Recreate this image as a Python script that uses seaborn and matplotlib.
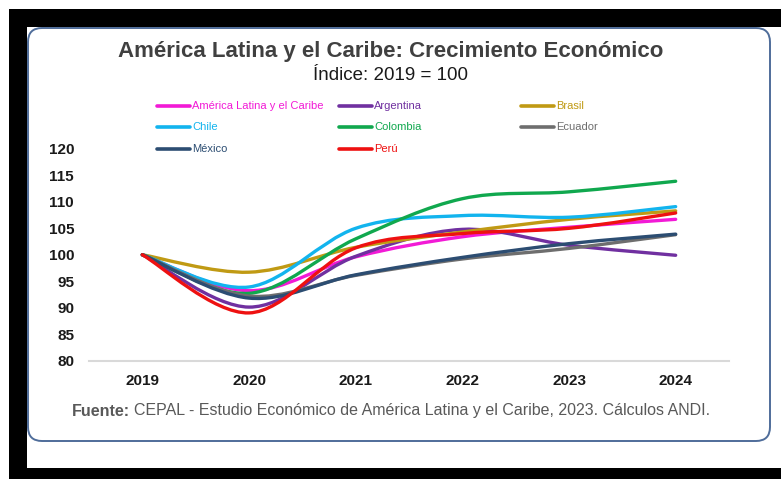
import numpy as np
import pandas as pd
import matplotlib
matplotlib.use("Agg")
import matplotlib.pyplot as plt
import seaborn as sns
from matplotlib.path import Path
from matplotlib.patches import PathPatch, Rectangle, FancyBboxPatch
from matplotlib.lines import Line2D
from matplotlib.transforms import IdentityTransform

# Datos (Índice 2019 = 100)
years = [2019, 2020, 2021, 2022, 2023, 2024]
alc = [100, 93.2, 99.6, 103.4, 105.2, 106.7]
argentina = [100, 90.1, 99.7, 104.8, 101.8, 99.9]
brasil = [100, 96.7, 101.4, 104.3, 106.7, 108.3]
chile = [100, 93.9, 105.0, 107.4, 107.1, 109.1]
colombia = [100, 92.7, 103.0, 110.6, 111.9, 113.9]
ecuador = [100, 92.2, 96.1, 99.2, 101.2, 103.8]
mexico = [100, 91.8, 96.2, 99.5, 102.1, 103.9]
peru = [100, 89.0, 101.3, 104.0, 105.0, 107.9]

names = ["América Latina y el Caribe", "Argentina", "Brasil", "Chile",
         "Colombia", "Ecuador", "México", "Perú"]
series = [alc, argentina, brasil, chile, colombia, ecuador, mexico, peru]
colors = ["#f21ad6", "#7030a0", "#c09a14", "#12b4ee", "#10a84e",
          "#6e6e6e", "#2c4d72", "#ee1111"]

rows = []
for name, vals in zip(names, series):
    for y, v in zip(years, vals):
        rows.append({"Año": y, "Índice": v, "Serie": name})
df = pd.DataFrame(rows)

sns.set_style("white")
plt.rcParams["font.family"] = ["Liberation Sans", "DejaVu Sans"]

W, H = 781, 479
fig = plt.figure(figsize=(W / 100, H / 100), dpi=100)
fig.patch.set_facecolor("white")

# marco negro y caja redondeada
fig.patches.append(Rectangle((9, 0), W - 9, H - 9, transform=IdentityTransform(),
                             fc="black", ec="none", zorder=-3))
fig.patches.append(Rectangle((27, H - 468), W - 27, 468 - 27, transform=IdentityTransform(),
                             fc="white", ec="none", zorder=-2))
fig.patches.append(FancyBboxPatch((28, H - 441), 742, 413, boxstyle="round,pad=0,rounding_size=14",
                                  transform=IdentityTransform(), fc="white", ec="#4f6d9a",
                                  lw=1.4, zorder=-1))

ax = fig.add_axes([89 / W, 1 - 360.5 / H, (729 - 89) / W, (360.5 - 149) / H])
ax.patch.set_alpha(0)

sns.lineplot(data=df, x="Año", y="Índice", hue="Serie", hue_order=names,
             palette=colors, legend=False, ax=ax, lw=2.4)


def smooth(xy):
    # curva suavizada tipo Excel (Bezier)
    n = len(xy)
    verts = [xy[0]]
    codes = [Path.MOVETO]
    for i in range(n - 1):
        p0 = xy[max(i - 1, 0)]
        p1 = xy[i]
        p2 = xy[i + 1]
        p3 = xy[min(i + 2, n - 1)]
        verts += [p1 + (p2 - p0) / 6, p2 - (p3 - p1) / 6, p2]
        codes += [Path.CURVE4] * 3
    return Path(verts, codes)


for line in list(ax.get_lines()):
    xy = line.get_xydata()
    ax.add_patch(PathPatch(smooth(xy), fill=False, ec=line.get_color(),
                           lw=line.get_linewidth(), capstyle="round", joinstyle="round"))
    line.set_visible(False)

ax.set_xlim(2018.5, 2024.5)
ax.set_ylim(80, 120)
ax.set_xticks(years)
ax.set_xticklabels([str(y) for y in years])
ax.set_yticks(range(80, 121, 5))
ax.tick_params(axis="both", length=0, colors="#1a1a1a")
ax.tick_params(axis="y", pad=10.8, labelsize=11)
ax.tick_params(axis="x", pad=10, labelsize=11)
for lab in ax.get_xticklabels() + ax.get_yticklabels():
    lab.set_fontweight("bold")
for s in ["top", "left", "right"]:
    ax.spines[s].set_visible(False)
ax.spines["bottom"].set_color("#d9d9d9")
ax.spines["bottom"].set_linewidth(1.5)
ax.set_xlabel("")
ax.set_ylabel("")

# leyenda manual en 3 columnas
col_x = [157, 339, 521]
row_y = [106, 127, 149]
for i, (name, c) in enumerate(zip(names, colors)):
    x0 = col_x[i % 3]
    y0 = row_y[i // 3]
    fig.add_artist(Line2D([x0 / W, (x0 + 33) / W], [1 - y0 / H, 1 - y0 / H],
                          color=c, lw=2.6, solid_capstyle="round"))
    fig.text((x0 + 35) / W, 1 - y0 / H, name, color=c, fontsize=8,
             ha="left", va="center")

fig.text(391 / W, 1 - 52 / H, "América Latina y el Caribe: Crecimiento Económico",
         ha="center", va="center", fontsize=16, fontweight="bold", color="#404040")
fig.text(391 / W, 1 - 75 / H, "Índice: 2019 = 100", ha="center", va="center",
         fontsize=13.5, color="#1a1a1a")

# fuente
fig.canvas.draw()
r = fig.canvas.get_renderer()
t1 = fig.text(0, 1 - 411 / H, "Fuente:", fontweight="bold", fontsize=11.5,
              color="#595959", va="center")
t2 = fig.text(0, 1 - 411 / H, "CEPAL - Estudio Económico de América Latina y el Caribe, 2023. Cálculos ANDI.",
              fontsize=11.5, color="#595959", va="center")
gap = 4
w1 = t1.get_window_extent(r).width
w2 = t2.get_window_extent(r).width
start = 391 - (w1 + gap + w2) / 2
t1.set_x(start / W)
t2.set_x((start + w1 + gap) / W)

fig.savefig("out.png", dpi=100)
